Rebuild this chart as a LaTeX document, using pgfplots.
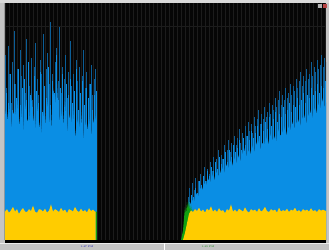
\documentclass[border=0pt]{standalone}
\usepackage{pgfplots}
\pgfplotsset{compat=1.18}
\definecolor{bgblack}{HTML}{060606}
\definecolor{gridc}{HTML}{1C1C1C}
\definecolor{bluebody}{HTML}{0A8EE4}
\definecolor{bluetip}{HTML}{0B5E98}
\definecolor{yel}{HTML}{FFCC00}
\definecolor{grn}{HTML}{11A011}
\definecolor{frame}{HTML}{C4C4C4}
\definecolor{framedark}{HTML}{9A9A9A}
\begin{document}
\begin{tikzpicture}[x=1pt,y=1pt]
\useasboundingbox (0,0) rectangle (329,250);
\fill[frame] (0,0) rectangle (329,250);
\fill[bgblack] (5,7) rectangle (326,247);
\fill[framedark] (4,10) rectangle (5,247);
\fill[white!85!gray] (0,7) -- (329,7) -- (329,6.5) -- (0,6.5) -- cycle;
\draw[white,line width=0.6pt] (164,0) -- (164,7);
\begin{axis}[
  at={(5pt,10pt)}, anchor=south west,
  scale only axis, width=321pt, height=237pt,
  xmin=5, xmax=326, ymin=0, ymax=100,
  axis line style={draw=none},
  axis background/.style={fill=bgblack},
  xtick={5,9,...,326}, ytick={90},
  xticklabels={}, yticklabels={},
  major tick length=0pt,
  grid=major, major grid style={gridc, line width=0.5pt},
  clip=true,
]
% dark blue spike tips
\addplot[ycomb, bluetip, line width=1.0pt, mark=none] table[row sep=\\, header=false, x expr=5.5+1.5*\coordindex, y index=0] {
78\\64\\82\\70\\58\\75\\88\\66\\72\\60\\80\\69\\74\\62\\85\\71\\65\\77\\59\\73\\83\\68\\61\\76\\70\\87\\64\\72\\79\\66\\92\\70\\63\\75\\81\\67\\90\\62\\73\\68\\78\\60\\71\\84\\65\\70\\58\\76\\67\\73\\62\\69\\80\\64\\71\\59\\66\\74\\61\\68\\72\\};
\addplot[ycomb, bluetip, line width=1.0pt, mark=none] table[row sep=\\, header=false, x expr=188+1.5*\coordindex, y index=0] {
18\\22\\17\\24\\21\\26\\20\\25\\28\\23\\27\\31\\25\\30\\28\\33\\29\\35\\31\\34\\38\\32\\36\\34\\40\\35\\38\\42\\37\\41\\39\\44\\40\\43\\47\\41\\45\\43\\48\\44\\50\\46\\49\\45\\52\\48\\51\\55\\49\\53\\51\\56\\52\\54\\58\\53\\57\\55\\60\\56\\59\\63\\57\\61\\59\\64\\60\\62\\66\\61\\65\\63\\68\\64\\67\\71\\65\\69\\67\\72\\68\\70\\75\\69\\73\\71\\76\\72\\74\\78\\73\\77\\75\\};
% bright blue spikes
\addplot[ycomb, bluebody, line width=0.8pt, mark=none] table[row sep=\\, header=false, x expr=6+2*\coordindex, y index=0] {
62\\58\\70\\55\\66\\60\\72\\57\\64\\68\\59\\75\\61\\56\\69\\63\\58\\71\\54\\65\\60\\73\\57\\67\\62\\78\\59\\64\\70\\56\\66\\61\\68\\58\\63\\72\\55\\62\\67\\57\\64\\60\\66\\55\\61\\63\\};
\addplot[ycomb, bluebody, line width=0.8pt, mark=none] table[row sep=\\, header=false, x expr=189+2*\coordindex, y index=0] {
16\\19\\18\\22\\20\\25\\23\\27\\25\\29\\27\\31\\29\\33\\30\\35\\32\\34\\37\\33\\38\\35\\40\\37\\39\\42\\38\\43\\40\\44\\42\\46\\43\\45\\48\\44\\49\\46\\50\\47\\52\\48\\51\\54\\50\\53\\52\\56\\53\\55\\58\\54\\57\\56\\60\\57\\59\\62\\58\\61\\60\\64\\61\\63\\66\\62\\65\\64\\67\\};
% bright blue body
\addplot[fill=bluebody, draw=none] coordinates {
(5,0)(5,55)(7,50)(9,58)(11,47)(13,54)(15,52)(17,60)(19,48)(21,56)(23,45)(25,58)(27,51)(29,49)(31,62)(33,53)(35,46)(37,57)(39,50)(41,44)(43,55)(45,48)(47,59)(49,52)(51,46)(53,64)(55,57)(57,66)(59,50)(61,55)(63,48)(65,60)(67,45)(69,53)(71,49)(73,56)(75,43)(77,51)(79,47)(81,54)(83,42)(85,50)(87,46)(89,52)(91,44)(93,49)(95,53)(96,50)(96,0)} \closedcycle;
\addplot[fill=bluebody, draw=none] coordinates {
(186,0)(188,13)(190,15)(192,17)(194,16)(196,20)(198,18)(200,22)(202,21)(204,24)(206,23)(208,26)(210,24)(212,28)(214,25)(216,29)(218,27)(220,28)(222,31)(224,28)(226,32)(228,30)(230,34)(232,31)(234,35)(236,32)(238,36)(240,33)(242,36)(244,39)(246,35)(248,38)(250,36)(252,40)(254,37)(256,40)(258,43)(260,38)(262,41)(264,40)(266,44)(268,40)(270,45)(272,42)(274,44)(276,41)(278,47)(280,44)(282,45)(284,48)(286,44)(288,48)(290,46)(292,50)(294,47)(296,49)(298,51)(300,48)(302,51)(304,53)(306,49)(308,52)(310,55)(312,51)(314,56)(316,53)(318,58)(320,55)(322,60)(324,56)(326,58)(326,0)} \closedcycle;
% green
\addplot[fill=grn, draw=none] coordinates {
(95.5,0)(95.5,12)(96.8,12)(96.8,0)} \closedcycle;
\addplot[fill=grn, draw=none] coordinates {
(181,0)(183,4)(184,9)(185,14)(186,11)(187,16)(188,13)(189,17)(190,12)(191,15)(192,11)(193,13)(194,0)} \closedcycle;
% yellow
\addplot[fill=yel, draw=none] coordinates {
(5,0)(5,12)(7,13)(9,11.5)(11,12.5)(13,14)(15,12)(17,13)(19,11)(21,12.5)(23,13.5)(25,12)(27,11.8)(29,13)(31,12.2)(33,14.5)(35,12)(37,11.5)(39,13)(41,12.8)(43,12)(45,13.2)(47,11.6)(49,12.4)(51,15)(53,12)(55,13)(57,12.5)(59,11.8)(61,13.6)(63,12.2)(65,12.8)(67,11.4)(69,13)(71,12.6)(73,12)(75,14)(77,12.4)(79,11.8)(81,13.2)(83,12)(85,12.6)(87,11.6)(89,13.4)(91,12.2)(93,12.8)(95,12)(95.5,12)(95.5,0)} \closedcycle;
\addplot[fill=yel, draw=none] coordinates {
(183,0)(185,3)(187,7)(189,11)(191,12.5)(193,11.8)(195,13)(197,12.2)(199,13.6)(201,12)(203,12.8)(205,11.6)(207,13.2)(209,12.4)(211,14.2)(213,12)(215,12.8)(217,11.8)(219,13.4)(221,12.2)(223,12.6)(225,11.4)(227,13)(229,12.4)(231,15)(233,12)(235,12.8)(237,11.8)(239,13.2)(241,12.6)(243,12)(245,13.8)(247,12.2)(249,11.6)(251,13)(253,12.4)(255,12.8)(257,11.8)(259,13.4)(261,12)(263,12.6)(265,14)(267,12.2)(269,11.8)(271,13)(273,12.4)(275,12.8)(277,11.6)(279,13.6)(281,12)(283,12.6)(285,12.2)(287,13.2)(289,11.8)(291,12.8)(293,12.4)(295,13.6)(297,12)(299,12.6)(301,11.8)(303,13)(305,12.4)(307,12.8)(309,12)(311,13.4)(313,12.2)(315,12.6)(317,11.8)(319,13)(321,12.4)(323,12.8)(326,12.2)(326,0)} \closedcycle;
\end{axis}
\fill[black] (5,7) rectangle (326,10);
\fill[white!70!gray] (0,247) rectangle (329,250);
\fill[gray!60] (317.5,242) rectangle (322,246.5);
\fill[red!45!gray] (322.5,242) rectangle (327,246.5);
\node[font=\fontsize{2.5}{3}\selectfont, text=blue!70!black, inner sep=0pt] at (87,3.5) {1:47 PM};
\node[font=\fontsize{2.5}{3}\selectfont, text=green!50!black, inner sep=0pt] at (208,3.5) {1:49 PM};
\end{tikzpicture}
\end{document}
